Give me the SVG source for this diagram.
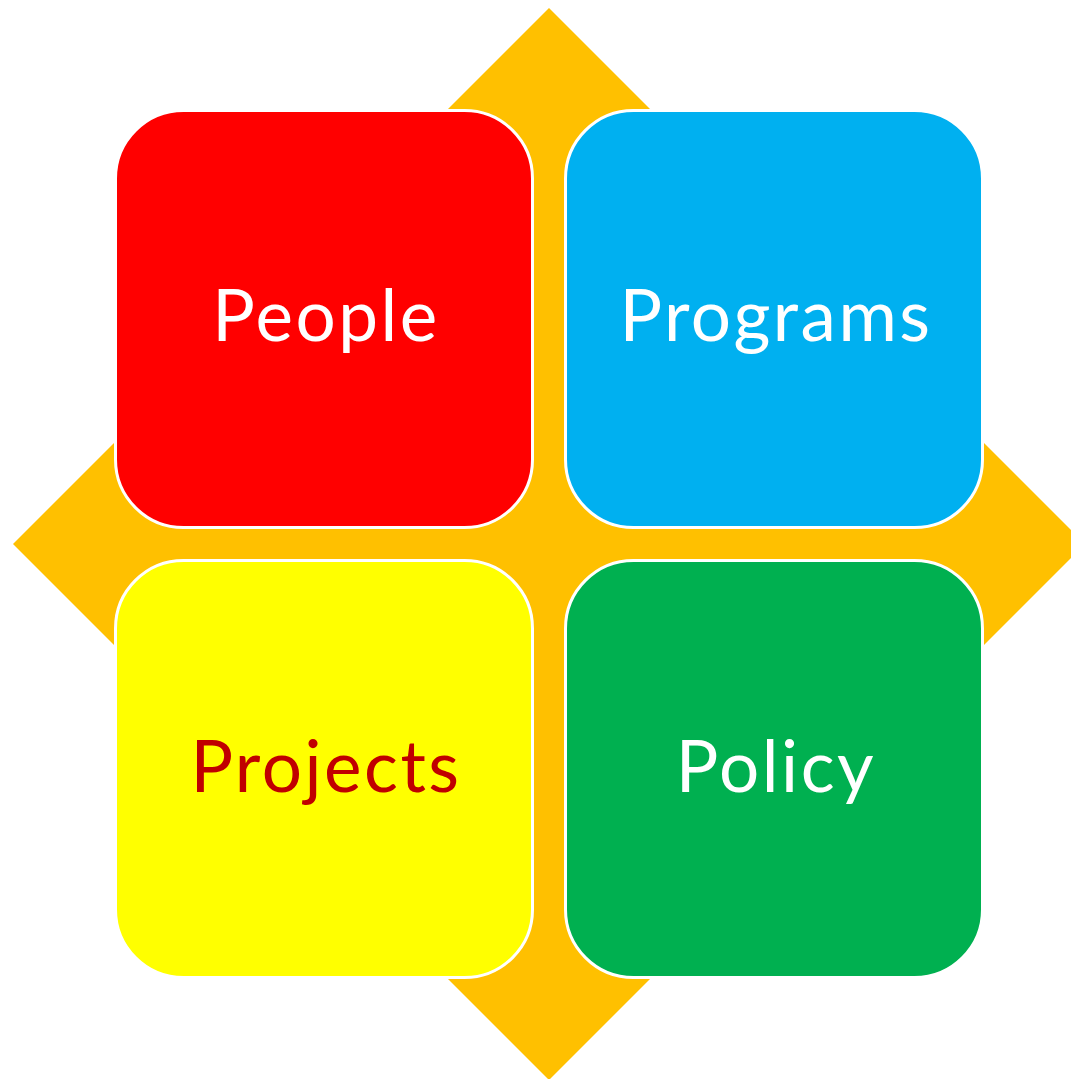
<svg xmlns="http://www.w3.org/2000/svg" width="1071" height="1079" viewBox="0 0 1071 1079">
<style>
.box{stroke:#fff;stroke-width:3}
.lbl{font-family:Lato,"Open Sans","Liberation Sans",sans-serif;font-size:71px;text-anchor:middle;letter-spacing:2.5px}
</style>
<rect width="1071" height="1079" fill="#fff"/>
<g id="diamond"><polygon points="549,8 1085,544 549,1080 13,544" fill="#FFC000"/></g>
<g id="people"><rect class="box" x="115.5" y="110.5" width="417" height="417" rx="68" fill="#FF0000"/><text class="lbl" x="326" y="341" fill="#fff">People</text></g>
<g id="programs"><rect class="box" x="565.5" y="110.5" width="417" height="417" rx="68" fill="#00B0F0"/><text class="lbl" x="776" y="341" fill="#fff">Programs</text></g>
<g id="projects"><rect class="box" x="115.5" y="560.5" width="417" height="417" rx="68" fill="#FFFF00"/><text class="lbl" x="326" y="792" fill="#C00000">Projects</text></g>
<g id="policy"><rect class="box" x="565.5" y="560.5" width="417" height="417" rx="68" fill="#00B050"/><text class="lbl" x="776" y="792" fill="#fff">Policy</text></g>
<g id="connectors"/>
</svg>
